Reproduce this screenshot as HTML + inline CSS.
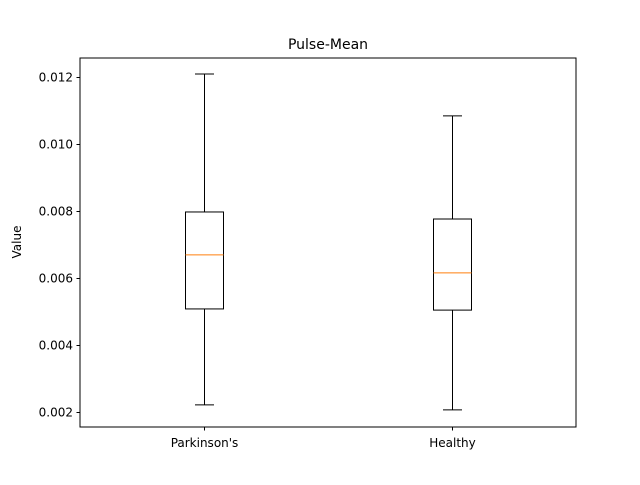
<!DOCTYPE html>
<html><head><meta charset="utf-8"><style>
body{margin:0;background:#fff;}
svg text{font-family:"DejaVu Sans","Liberation Sans",sans-serif;}
</style></head><body>
<svg id="chart" width="640" height="480">
<rect x="0" y="0" width="640" height="480" fill="#fff"/>
<text x="328" y="49" font-size="14" text-anchor="middle">Pulse-Mean</text>
<text transform="translate(21,242) rotate(-90)" font-size="12" text-anchor="middle">Value</text>
<g id="plot"></g>
<rect x="80" y="58" width="496" height="369" fill="none" stroke="#000" stroke-width="1"/>
</svg>
<script>
const categories=["Parkinson's","Healthy"];
const whiskerLow=[0.00221,0.00206];
const q1=[0.005075,0.00504];
const medians=[0.00669,0.00615];
const q3=[0.00797,0.00776];
const whiskerHigh=[0.01209,0.01084];
const yTicks=[0.002,0.004,0.006,0.008,0.010,0.012];
const yTickLabels=["0.002","0.004","0.006","0.008","0.010","0.012"];

const L=80,R=576,T=58,B=427,yMin=0.00155,yMax=0.012567;
const y=v=>B-(v-yMin)/(yMax-yMin)*(B-T);
const x=i=>L+(i+0.5)*(R-L)/categories.length;
const g=document.getElementById('plot');
const NS="http://www.w3.org/2000/svg";
function mk(tag,attrs){const e=document.createElementNS(NS,tag);for(const k in attrs)e.setAttribute(k,attrs[k]);g.appendChild(e);return e;}
yTicks.forEach((t,i)=>{
  const yy=Math.round(y(t))+0.5;
  const tk=mk('line',{x1:L-3.5,x2:L,y1:yy,y2:yy,stroke:'#000'});
  
  
  const lb=mk('text',{x:L-7,y:yy+4,'font-size':12,'text-anchor':'end'});
  lb.textContent=yTickLabels[i];
  
  
});
categories.forEach((c,i)=>{
  const cx=Math.round(x(i))+0.5, bw=19, cw=9.5;
  const tk=mk('line',{x1:cx,x2:cx,y1:B,y2:B+3.5,stroke:'#000'});
  
  
  const lb=mk('text',{x:cx,y:B+20,'font-size':12,'text-anchor':'middle'});
  lb.textContent=c;
  
  
  const w1=mk('line',{x1:cx,x2:cx,y1:y(whiskerLow[i]),y2:y(q1[i]),stroke:'#000'});
  
  
  const w2=mk('line',{x1:cx,x2:cx,y1:y(q3[i]),y2:y(whiskerHigh[i]),stroke:'#000'});
  
  
  const c1=mk('line',{x1:cx-cw,x2:cx+cw,y1:y(whiskerLow[i]),y2:y(whiskerLow[i]),stroke:'#000'});
  
  
  const c2=mk('line',{x1:cx-cw,x2:cx+cw,y1:y(whiskerHigh[i]),y2:y(whiskerHigh[i]),stroke:'#000'});
  
  
  const bx=mk('rect',{x:cx-bw,y:y(q3[i]),width:2*bw,height:y(q1[i])-y(q3[i]),fill:'none',stroke:'#000'});
  
  
  const md=mk('line',{x1:cx-bw,x2:cx+bw,y1:y(medians[i]),y2:y(medians[i]),stroke:'#ff7f0e'});
  
  
});
</script>
</body></html>
